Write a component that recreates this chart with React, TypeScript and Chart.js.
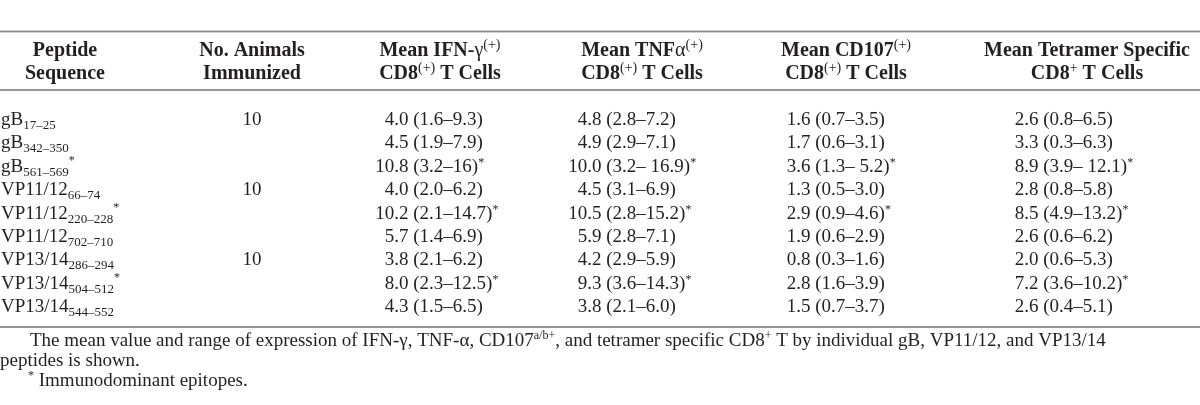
import React, { useEffect, useRef } from 'react';
import { Chart, registerables } from 'chart.js';

Chart.register(...registerables);

// ---------- table content ----------
const peptideNames = ['gB', 'gB', 'gB', 'VP11/12', 'VP11/12', 'VP11/12', 'VP13/14', 'VP13/14', 'VP13/14'];
const peptideResidues = ['17–25', '342–350', '561–569', '66–74', '220–228', '702–710', '286–294', '504–512', '544–552'];
const immunodominant = [false, false, true, false, true, false, false, true, false];
const animalsImmunized = ['10', '', '', '10', '', '', '10', '', ''];
const ifnGamma = ['4.0 (1.6–9.3)', '4.5 (1.9–7.9)', '10.8 (3.2–16)*', '4.0 (2.0–6.2)', '10.2 (2.1–14.7)*', '5.7 (1.4–6.9)', '3.8 (2.1–6.2)', '8.0 (2.3–12.5)*', '4.3 (1.5–6.5)'];
const tnfAlpha = ['4.8 (2.8–7.2)', '4.9 (2.9–7.1)', '10.0 (3.2– 16.9)*', '4.5 (3.1–6.9)', '10.5 (2.8–15.2)*', '5.9 (2.8–7.1)', '4.2 (2.9–5.9)', '9.3 (3.6–14.3)*', '3.8 (2.1–6.0)'];
const cd107 = ['1.6 (0.7–3.5)', '1.7 (0.6–3.1)', '3.6 (1.3– 5.2)*', '1.3 (0.5–3.0)', '2.9 (0.9–4.6)*', '1.9 (0.6–2.9)', '0.8 (0.3–1.6)', '2.8 (1.6–3.9)', '1.5 (0.7–3.7)'];
const tetramer = ['2.6 (0.8–6.5)', '3.3 (0.3–6.3)', '8.9 (3.9– 12.1)*', '2.8 (0.8–5.8)', '8.5 (4.9–13.2)*', '2.6 (0.6–6.2)', '2.0 (0.6–5.3)', '7.2 (3.6–10.2)*', '2.6 (0.4–5.1)'];

// header runs: [text, kind] kind: b = bold, r = regular, s = superscript
const columnHeaders: [string, string][][][] = [
  [[['Peptide', 'b']], [['Sequence', 'b']]],
  [[['No. Animals', 'b']], [['Immunized', 'b']]],
  [[['Mean IFN-', 'b'], ['γ', 'r'], ['(+)', 's']], [['CD8', 'b'], ['(+)', 's'], [' T Cells', 'b']]],
  [[['Mean TNF', 'b'], ['α', 'r'], ['(+)', 's']], [['CD8', 'b'], ['(+)', 's'], [' T Cells', 'b']]],
  [[['Mean CD107', 'b'], ['(+)', 's']], [['CD8', 'b'], ['(+)', 's'], [' T Cells', 'b']]],
  [[['Mean Tetramer Specific', 'b']], [['CD8', 'b'], ['+', 's'], [' T Cells', 'b']]],
];

const footnoteLines: [string, string][][] = [
  [['The mean value and range of expression of IFN-γ, TNF-α, CD107', 'r'], ['a/b+', 's'], [', and tetramer specific CD8', 'r'], ['+', 's'], [' T by individual gB, VP11/12, and VP13/14', 'r']],
  [['peptides is shown.', 'r']],
  [['*', 's'], [' Immunodominant epitopes.', 'r']],
];

// ---------- layout & style ----------
const W = 1200;
const H = 405;
const INK = '#231f20';
const RULE = '#8a8a8a';
const SERIF = '"Liberation Serif", "Times New Roman", serif';
const fHead = `bold 20px ${SERIF}`;
const fHeadReg = `20px ${SERIF}`;
const fHeadSup = `14px ${SERIF}`;
const fBody = `19px ${SERIF}`;
const fSub = `13px ${SERIF}`;
const fSup = `12px ${SERIF}`;

const RULES = [31.5, 90, 327];
const HEADER_BASELINES = [56, 79];
const ROW_BASE = 125;
const ROW_STEP = 23.4;
const HEADER_CENTERS = [65, 252, 440, 642, 846, 1087];
const VALUE_ANCHORS = [399, 592, 801, 1029];
const FOOT_X = [30, 0, 28];
const FOOT_BASE = [346, 366, 386];

type Run = { text: string; font: string; dy: number };

const headRuns = (line: [string, string][]): Run[] =>
  line.map(([t, k]) =>
    k === 'b' ? { text: t, font: fHead, dy: 0 } : k === 'r' ? { text: t, font: fHeadReg, dy: 0 } : { text: t, font: fHeadSup, dy: -7 }
  );
const footRuns = (line: [string, string][]): Run[] =>
  line.map(([t, k]) => (k === 's' ? { text: t, font: fSup, dy: -7 } : { text: t, font: fBody, dy: 0 }));
const cellRuns = (s: string): Run[] =>
  s.endsWith('*')
    ? [{ text: s.slice(0, -1), font: fBody, dy: 0 }, { text: '*', font: fSup, dy: -6 }]
    : [{ text: s, font: fBody, dy: 0 }];

const rowY = (i: number) => ROW_BASE + i * ROW_STEP;

function drawRuns(ctx: CanvasRenderingContext2D, runs: Run[], x: number, y: number, align: string) {
  let w = 0;
  for (const r of runs) {
    ctx.font = r.font;
    w += ctx.measureText(r.text).width;
  }
  let sx = x;
  if (align === 'center') sx = x - w / 2;
  else if (align === 'decimal') {
    const first = runs[0];
    const idx = first.text.indexOf('.');
    ctx.font = first.font;
    sx = x - ctx.measureText(first.text.slice(0, idx + 1)).width;
  }
  for (const r of runs) {
    ctx.font = r.font;
    ctx.fillText(r.text, sx, y + r.dy);
    sx += ctx.measureText(r.text).width;
  }
}

const tablePlugin = {
  id: 'tableText',
  afterDatasetsDraw(chart: any) {
    const ctx: CanvasRenderingContext2D = chart.ctx;
    const xs = chart.scales.x;
    const ys = chart.scales.y;
    ctx.save();
    ctx.fillStyle = RULE;
    const x0 = xs.getPixelForValue(0);
    const x1 = xs.getPixelForValue(W);
    for (const r of RULES) {
      const py = ys.getPixelForValue(r);
      ctx.fillRect(x0, py - 0.9, x1 - x0, 1.8);
    }
    ctx.fillStyle = INK;
    ctx.textBaseline = 'alphabetic';
    chart.data.datasets.forEach((ds: any, di: number) => {
      const meta = chart.getDatasetMeta(di);
      meta.data.forEach((el: any, i: number) => {
        const runs = ds.runs[i];
        if (runs && runs.length) drawRuns(ctx, runs, el.x, el.y, ds.align);
      });
    });
    ctx.restore();
  },
};

function buildDatasets() {
  const sets: any[] = [];
  const base = { pointRadius: 0, pointHoverRadius: 0, showLine: false };

  // header
  const hData: any[] = [];
  const hRuns: Run[][] = [];
  columnHeaders.forEach((lines, c) =>
    lines.forEach((line, l) => {
      hData.push({ x: HEADER_CENTERS[c], y: HEADER_BASELINES[l] });
      hRuns.push(headRuns(line));
    })
  );
  sets.push({ ...base, label: 'header', data: hData, runs: hRuns, align: 'center' });

  // peptide column
  sets.push({
    ...base,
    label: 'peptide',
    data: peptideNames.map((_, i) => ({ x: 1, y: rowY(i) })),
    runs: peptideNames.map((n, i) => {
      const r: Run[] = [
        { text: n, font: fBody, dy: 0 },
        { text: peptideResidues[i], font: fSub, dy: 4 },
      ];
      if (immunodominant[i]) r.push({ text: '*', font: fSup, dy: -8 });
      return r;
    }),
    align: 'left',
  });

  // animals
  sets.push({
    ...base,
    label: 'animals',
    data: animalsImmunized.map((_, i) => ({ x: HEADER_CENTERS[1], y: rowY(i) })),
    runs: animalsImmunized.map((a) => (a ? [{ text: a, font: fBody, dy: 0 }] : [])),
    align: 'center',
  });

  const valueCols: [string, string[]][] = [
    ['ifn', ifnGamma],
    ['tnf', tnfAlpha],
    ['cd107', cd107],
    ['tetramer', tetramer],
  ];
  valueCols.forEach(([label, vals], c) => {
    sets.push({
      ...base,
      label,
      data: vals.map((_, i) => ({ x: VALUE_ANCHORS[c], y: rowY(i) })),
      runs: vals.map(cellRuns),
      align: 'decimal',
    });
  });

  // footnotes
  sets.push({
    ...base,
    label: 'footnotes',
    data: footnoteLines.map((_, i) => ({ x: FOOT_X[i], y: FOOT_BASE[i] })),
    runs: footnoteLines.map(footRuns),
    align: 'left',
  });
  return sets;
}

export default function App() {
  const ref = useRef<HTMLCanvasElement | null>(null);
  useEffect(() => {
    if (!ref.current) return;
    const chart = new Chart(ref.current, {
      type: 'scatter',
      data: { datasets: buildDatasets() },
      options: {
        animation: false,
        responsive: false,
        maintainAspectRatio: false,
        layout: { padding: 0 },
        plugins: { legend: { display: false }, tooltip: { enabled: false } },
        events: [],
        scales: {
          x: { type: 'linear', min: 0, max: W, display: false },
          y: { type: 'linear', min: 0, max: H, reverse: true, display: false },
        },
      },
      plugins: [tablePlugin],
    } as any);
    return () => chart.destroy();
  }, []);
  return (
    <div style={{ position: 'absolute', left: 0, top: 0, width: W, height: H, background: '#fff' }}>
      <canvas ref={ref} width={W} height={H} style={{ width: W, height: H, display: 'block' }} />
    </div>
  );
}
